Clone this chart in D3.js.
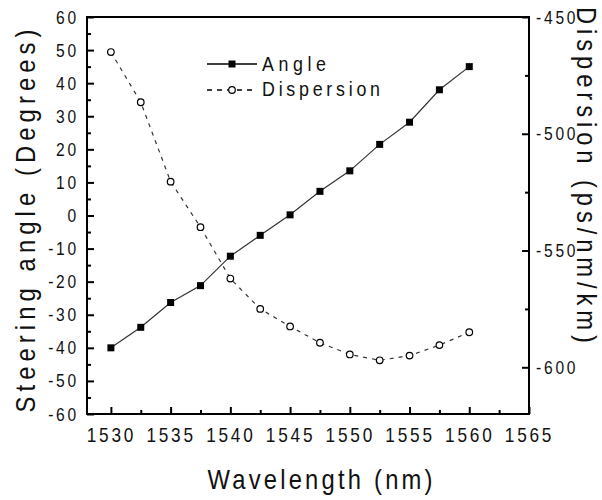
<!DOCTYPE html>
<html>
<head>
<meta charset="utf-8">
<script src="https://cdn.jsdelivr.net/npm/d3@7"></script>
<style>
  body { margin: 0; background: #fff; }
  svg text { font-family: "Liberation Sans", Arial, sans-serif; fill: #111; }
</style>
</head>
<body>
<svg id="chart" width="602" height="500"></svg>
<script>
// wavelengths (nm)
var wavelength = [1530, 1532.5, 1535, 1537.5, 1540, 1542.5, 1545, 1547.5, 1550, 1552.5, 1555, 1557.5, 1560];
// steering angle (degrees)
var angle = [-40, -33.8, -26.3, -21.2, -12.3, -6, 0.2, 7.3, 13.5, 21.5, 28.2, 38, 45];
// dispersion (ps/nm/km)
var dispersion = [-465, -486.5, -520.5, -540, -562, -575, -582.5, -589.5, -594.5, -597, -595, -590.5, -585];

var xTicks = [1530, 1535, 1540, 1545, 1550, 1555, 1560, 1565];
var leftTicks = [-60, -50, -40, -30, -20, -10, 0, 10, 20, 30, 40, 50, 60];
var rightTicks = [-600, -550, -500, -450];

var svg = d3.select("#chart");
var plotL = 87, plotR = 529, plotT = 17, plotB = 414;
var SX = 0.82; // squeeze glyphs a bit, the original font is narrow

var x = d3.scaleLinear().domain([1528, 1565]).range([plotL, plotR]);
var yL = d3.scaleLinear().domain([-60, 60]).range([plotB, plotT]);
var yR = d3.scaleLinear().domain([-620, -450]).range([plotB, plotT]);

var plain = function(d) { return String(d); }; // keep ascii hyphen for negatives

// frame
svg.append("rect")
    .attr("x", plotL).attr("y", plotT)
    .attr("width", plotR - plotL).attr("height", plotB - plotT)
    .attr("fill", "none").attr("stroke", "#000").attr("stroke-width", 2);

function styleAxis(fs) {
  return function(g) {
    g.select(".domain").remove();
    g.selectAll("line").attr("stroke", "#000").attr("stroke-width", 2);
    g.selectAll("text")
      .attr("font-size", fs)
      .attr("letter-spacing", "3.4px")
      .attr("fill", "#111")
      .each(function() {
        var t = d3.select(this);
        var tx = +t.attr("x") || 0;
        t.attr("x", tx / SX).attr("transform", "scale(" + SX + ",1)");
      });
  };
}

// bottom axis, ticks inward
var minorX = d3.range(1532.5, 1565, 5);
svg.append("g").attr("transform", "translate(0," + plotB + ")")
  .call(d3.axisBottom(x).tickValues(minorX).tickSize(-4).tickFormat(""))
  .call(styleAxis(21));
svg.append("g").attr("transform", "translate(0," + plotB + ")")
  .call(d3.axisBottom(x).tickValues(xTicks).tickSize(-7).tickPadding(13).tickFormat(plain))
  .call(styleAxis(21));

// left axis
var minorL = d3.range(-55, 60, 10);
svg.append("g").attr("transform", "translate(" + plotL + ",0)")
  .call(d3.axisLeft(yL).tickValues(minorL).tickSize(-4).tickFormat(""))
  .call(styleAxis(19));
svg.append("g").attr("transform", "translate(" + plotL + ",0)")
  .call(d3.axisLeft(yL).tickValues(leftTicks).tickSize(-7).tickPadding(8).tickFormat(plain))
  .call(styleAxis(19));

// right axis
var minorR = [-575, -525, -475];
svg.append("g").attr("transform", "translate(" + plotR + ",0)")
  .call(d3.axisRight(yR).tickValues(minorR).tickSize(-4).tickFormat(""))
  .call(styleAxis(19));
svg.append("g").attr("transform", "translate(" + plotR + ",0)")
  .call(d3.axisRight(yR).tickValues(rightTicks).tickSize(-7).tickPadding(7).tickFormat(plain))
  .call(styleAxis(19));

// axis titles: squeezed glyphs, spacing stretched to the measured length
function title(tx, ty, rot, len, txt) {
  svg.append("text")
    .attr("transform", "translate(" + tx + "," + ty + ") rotate(" + rot + ") scale(0.85,1)")
    .attr("text-anchor", "middle")
    .attr("font-size", 28)
    .attr("textLength", len / 0.85)
    .attr("lengthAdjust", "spacing")
    .text(txt);
}
title(320, 489, 0, 225, "Wavelength (nm)");
title(35, 221, -90, 383, "Steering angle (Degrees)");
title(577, 175, 90, 336, "Dispersion (ps/nm/km)");

// series
var angleData = wavelength.map(function(w, i) { return [w, angle[i]]; });
var dispData = wavelength.map(function(w, i) { return [w, dispersion[i]]; });

svg.append("path")
    .datum(angleData)
    .attr("fill", "none").attr("stroke", "#333").attr("stroke-width", 1.2)
    .attr("d", d3.line().x(function(d) { return x(d[0]); }).y(function(d) { return yL(d[1]); }));

svg.append("path")
    .datum(dispData)
    .attr("fill", "none").attr("stroke", "#333").attr("stroke-width", 1.2)
    .attr("stroke-dasharray", "4,5")
    .attr("d", d3.line().x(function(d) { return x(d[0]); }).y(function(d) { return yR(d[1]); }));

svg.append("g").selectAll("rect")
  .data(angleData)
  .enter().append("rect")
    .attr("x", function(d) { return x(d[0]) - 3.5; })
    .attr("y", function(d) { return yL(d[1]) - 3.5; })
    .attr("width", 7).attr("height", 7)
    .attr("fill", "#000");

svg.append("g").selectAll("circle")
  .data(dispData)
  .enter().append("circle")
    .attr("cx", function(d) { return x(d[0]); })
    .attr("cy", function(d) { return yR(d[1]); })
    .attr("r", 3.3)
    .attr("fill", "#fff").attr("stroke", "#000").attr("stroke-width", 1.2);

// legend
var lg = svg.append("g");
function legendText(ty, len, txt) {
  lg.append("text")
    .attr("transform", "translate(262," + ty + ") scale(0.85,1)")
    .attr("font-size", 21)
    .attr("textLength", len / 0.85)
    .attr("lengthAdjust", "spacing")
    .text(txt);
}
lg.append("line").attr("x1", 207).attr("x2", 257).attr("y1", 64).attr("y2", 64)
    .attr("stroke", "#000").attr("stroke-width", 1.5);
lg.append("rect").attr("x", 228.5).attr("y", 60.5).attr("width", 7).attr("height", 7).attr("fill", "#000");
legendText(71, 64, "Angle");

lg.append("line").attr("x1", 207).attr("x2", 257).attr("y1", 90).attr("y2", 90)
    .attr("stroke", "#000").attr("stroke-width", 1.5).attr("stroke-dasharray", "5,5");
lg.append("circle").attr("cx", 232).attr("cy", 90).attr("r", 3.3)
    .attr("fill", "#fff").attr("stroke", "#000").attr("stroke-width", 1.2);
legendText(96, 118, "Dispersion");
</script>
</body>
</html>
